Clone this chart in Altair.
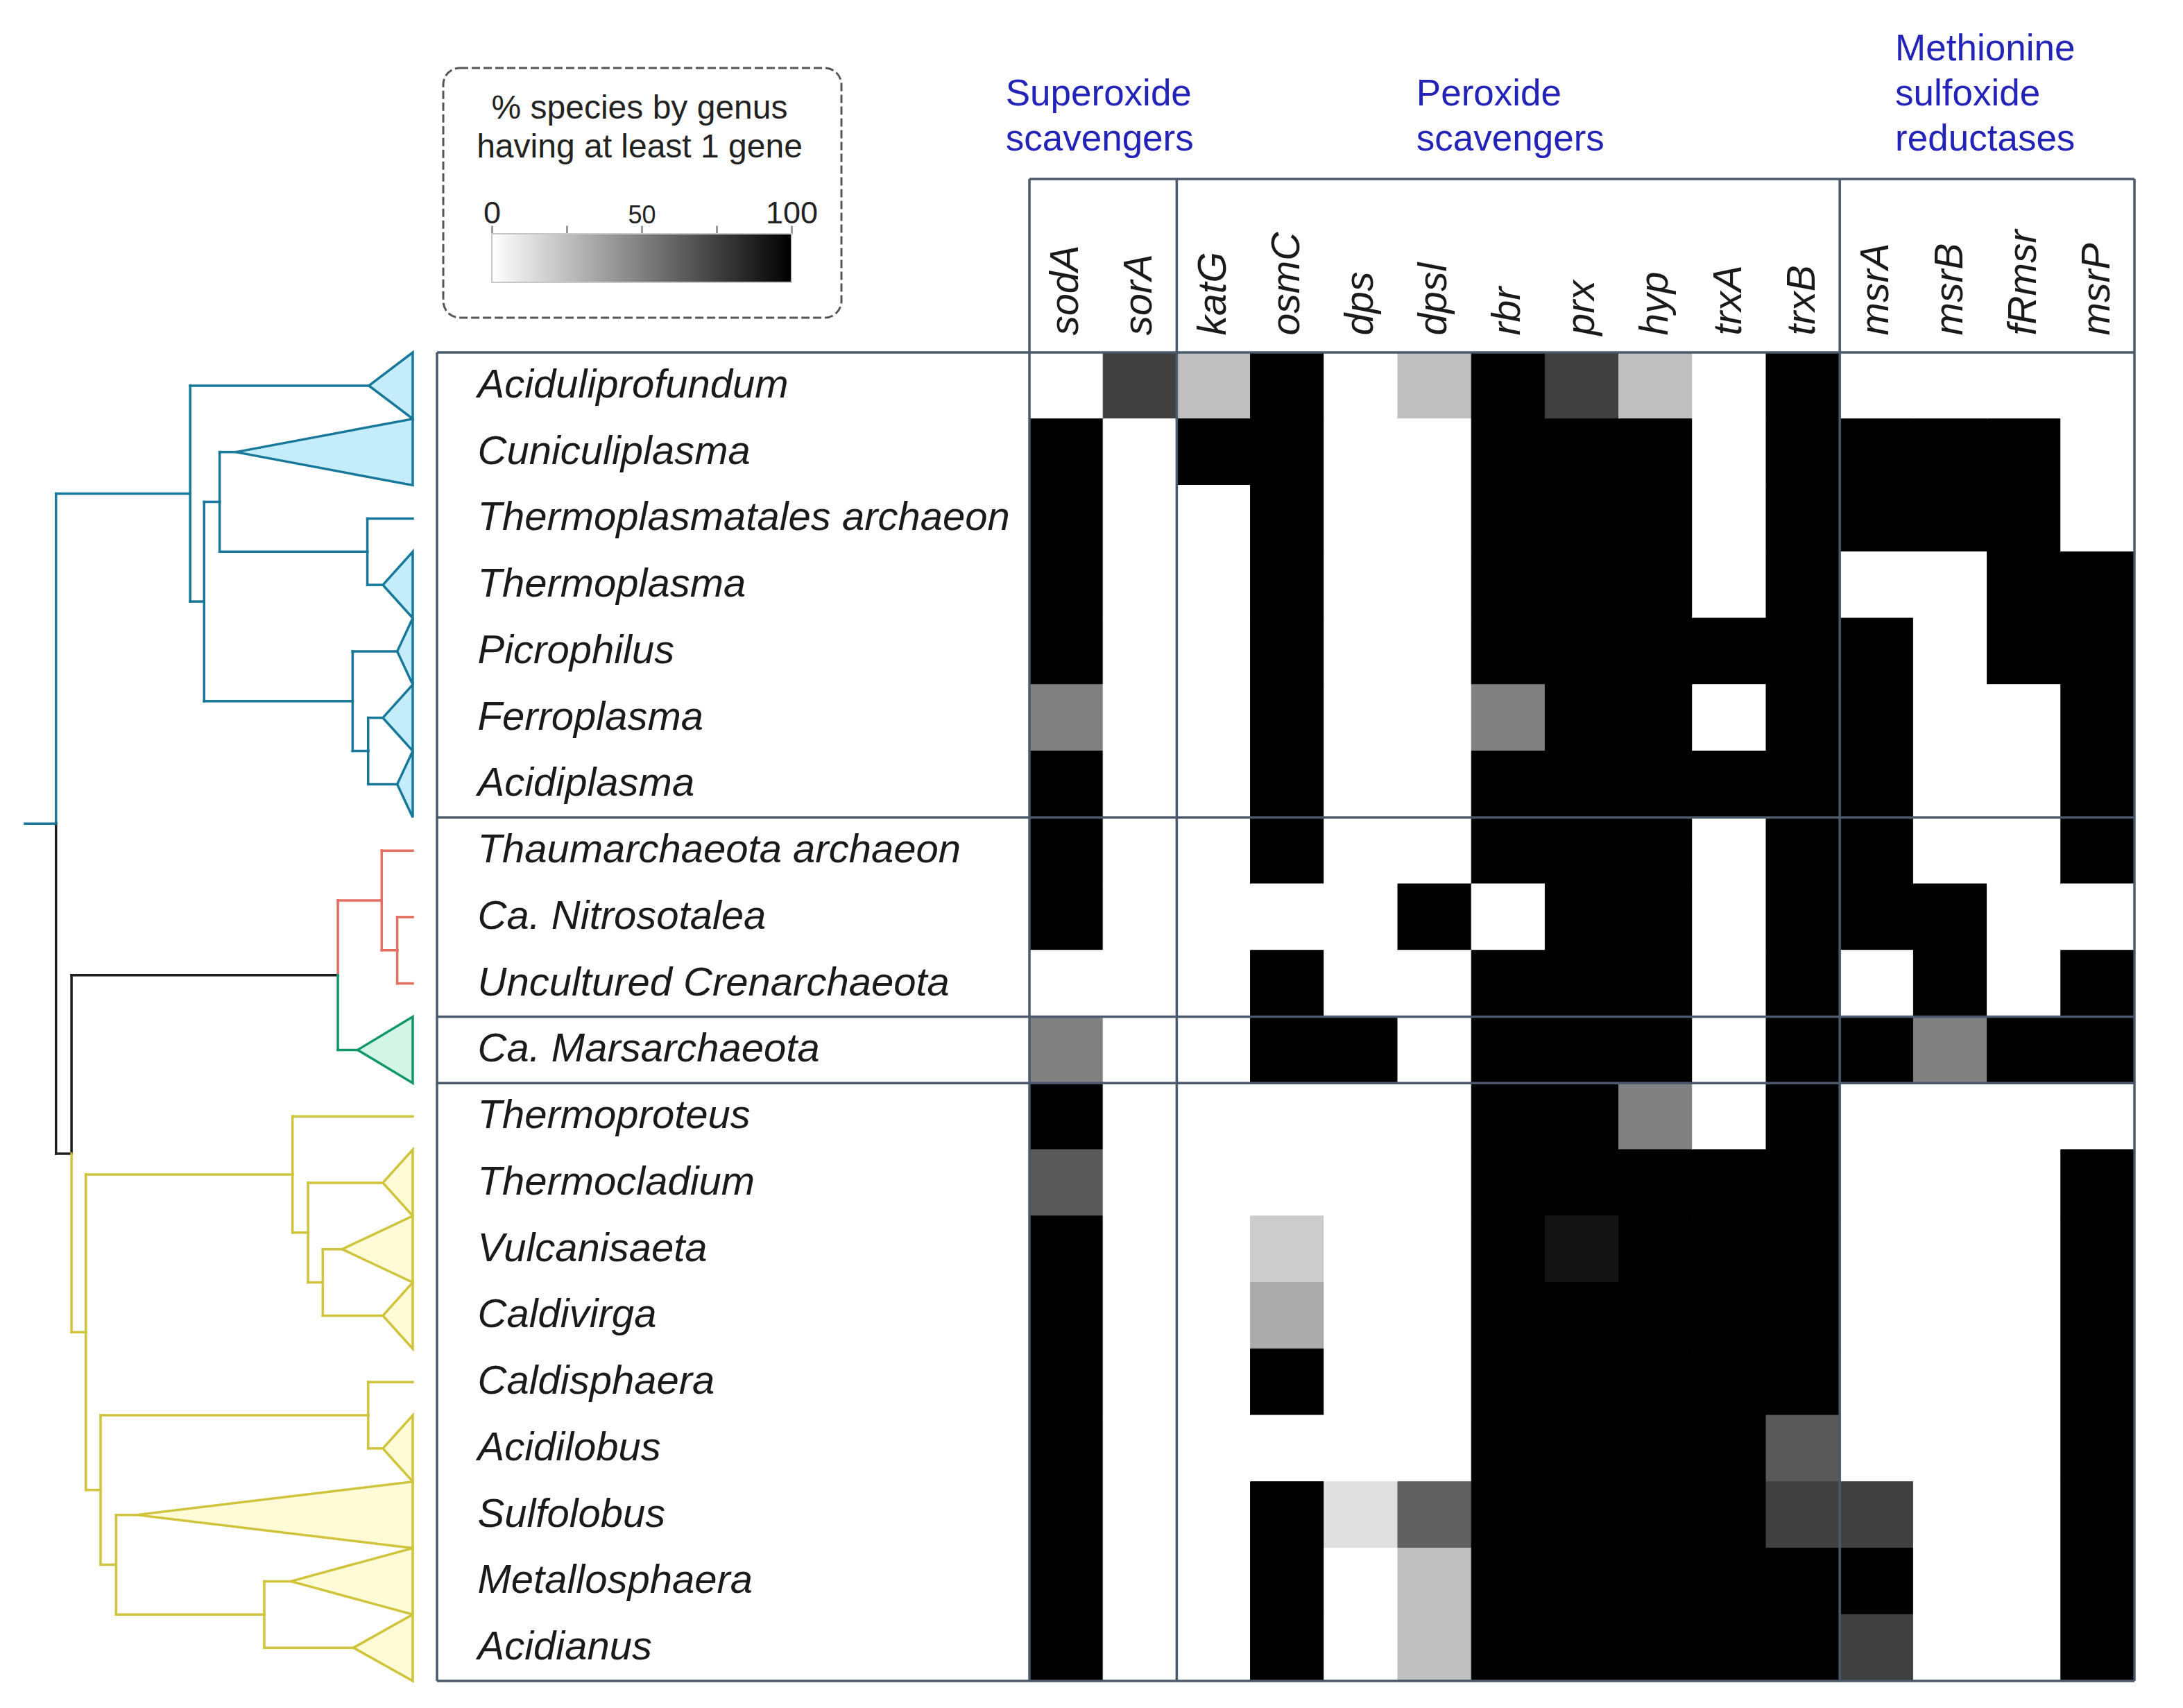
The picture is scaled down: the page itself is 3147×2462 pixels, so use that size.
import altair as alt
import pandas as pd

FONT = "Liberation Sans"

# ---------------- data ----------------
genera = [
    "Aciduliprofundum", "Cuniculiplasma", "Thermoplasmatales archaeon", "Thermoplasma",
    "Picrophilus", "Ferroplasma", "Acidiplasma",
    "Thaumarchaeota archaeon", "Ca. Nitrosotalea", "Uncultured Crenarchaeota",
    "Ca. Marsarchaeota",
    "Thermoproteus", "Thermocladium", "Vulcanisaeta", "Caldivirga", "Caldisphaera",
    "Acidilobus", "Sulfolobus", "Metallosphaera", "Acidianus",
]
row_group_sizes = [7, 3, 1, 9]
genus_clade = (["Thermoplasmata"] * 7 + ["Thaumarchaeota"] * 3 + ["Marsarchaeota"]
               + ["Crenarchaeota"] * 9)

genes = ["sodA", "sorA", "katG", "osmC", "dps", "dpsl", "rbr", "prx", "hyp",
         "trxA", "trxB", "msrA", "msrB", "fRmsr", "msrP"]
gene_groups = ["Superoxide\nscavengers", "Peroxide\nscavengers",
               "Methionine\nsulfoxide\nreductases"]
gene_group_sizes = [2, 9, 4]

# % species by genus having at least 1 gene (rows follow `genera`)
sodA  = [0, 100, 100, 100, 100, 50, 100, 100, 100, 0, 50, 100, 65, 100, 100, 100, 100, 100, 100, 100]
sorA  = [75, 0, 0, 0, 0, 0, 0, 0, 0, 0, 0, 0, 0, 0, 0, 0, 0, 0, 0, 0]
katG  = [25, 100, 0, 0, 0, 0, 0, 0, 0, 0, 0, 0, 0, 0, 0, 0, 0, 0, 0, 0]
osmC  = [100, 100, 100, 100, 100, 100, 100, 100, 0, 100, 100, 0, 0, 20, 33, 100, 0, 100, 100, 100]
dps   = [0, 0, 0, 0, 0, 0, 0, 0, 0, 0, 100, 0, 0, 0, 0, 0, 0, 12, 0, 0]
dpsl  = [25, 0, 0, 0, 0, 0, 0, 0, 100, 0, 0, 0, 0, 0, 0, 0, 0, 62, 25, 25]
rbr   = [100, 100, 100, 100, 100, 50, 100, 100, 0, 100, 100, 100, 100, 100, 100, 100, 100, 100, 100, 100]
prx   = [75, 100, 100, 100, 100, 100, 100, 100, 100, 100, 100, 100, 100, 92, 100, 100, 100, 100, 100, 100]
hyp   = [25, 100, 100, 100, 100, 100, 100, 100, 100, 100, 100, 50, 100, 100, 100, 100, 100, 100, 100, 100]
trxA  = [0, 0, 0, 0, 100, 0, 100, 0, 0, 0, 0, 0, 100, 100, 100, 100, 100, 100, 100, 100]
trxB  = [100, 100, 100, 100, 100, 100, 100, 100, 100, 100, 100, 100, 100, 100, 100, 100, 65, 75, 100, 100]
msrA  = [0, 100, 100, 0, 100, 100, 100, 100, 100, 0, 100, 0, 0, 0, 0, 0, 0, 75, 100, 75]
msrB  = [0, 100, 100, 0, 0, 0, 0, 0, 100, 100, 50, 0, 0, 0, 0, 0, 0, 0, 0, 0]
fRmsr = [0, 100, 100, 100, 100, 0, 0, 0, 0, 0, 100, 0, 0, 0, 0, 0, 0, 0, 0, 0]
msrP  = [0, 0, 0, 100, 100, 100, 100, 100, 0, 100, 100, 0, 100, 100, 100, 100, 100, 100, 100, 100]
gene_values = [sodA, sorA, katG, osmC, dps, dpsl, rbr, prx, hyp, trxA, trxB,
               msrA, msrB, fRmsr, msrP]

# tree: internal node -> (depth, [upper child, lower child]); depth 0 = root stub, 100 = tips
tree_nodes = {
    "root": (8.0, ["A", "X"]),
    "A": (42.6, ["Aciduliprofundum", "B"]),
    "B": (46.2, ["C", "E"]),
    "C": (50.2, ["Cuniculiplasma", "D"]),
    "D": (88.3, ["Thermoplasmatales archaeon", "Thermoplasma"]),
    "E": (84.5, ["Picrophilus", "F"]),
    "F": (88.5, ["Ferroplasma", "Acidiplasma"]),
    "X": (12.0, ["R", "Y"]),
    "R": (80.7, ["G", "Ca. Marsarchaeota"]),
    "G": (92.0, ["Thaumarchaeota archaeon", "H"]),
    "H": (96.0, ["Ca. Nitrosotalea", "Uncultured Crenarchaeota"]),
    "Y": (15.7, ["Z1", "W"]),
    "Z1": (69.0, ["Thermoproteus", "Z2"]),
    "Z2": (73.0, ["Thermocladium", "Z3"]),
    "Z3": (76.8, ["Vulcanisaeta", "Caldivirga"]),
    "W": (19.5, ["V", "U"]),
    "V": (88.5, ["Caldisphaera", "Acidilobus"]),
    "U": (23.5, ["Sulfolobus", "T"]),
    "T": (61.7, ["Metallosphaera", "Acidianus"]),
}
# depth of the apex of each collapsed clade (None = single branch to the tip)
clade_apex = [88.7, 54.4, None, 92.3, 96.0, 92.3, 96.0,
              None, None, None,
              85.8,
              None, 92.3, 81.8, 92.3, None, 92.3, 28.8, 68.6, 84.7]
TIP = 100.0
stub_clade = "Thermoplasmata"

clades = ["Thermoplasmata", "Thaumarchaeota", "Marsarchaeota", "Crenarchaeota", "mixed"]
clade_line = ["#18789a", "#e36f63", "#0f9669", "#cfc43c", "#1e1e1e"]
clade_fill = ["#c4ecfa", "#fde3e0", "#d3f5e5", "#fffbd6", "#ffffff"]

# ---------------- tables ----------------
heat_df = pd.DataFrame([
    {"genus": g, "gene": gene, "value": v}
    for gene, vals in zip(genes, gene_values)
    for g, v in zip(genera, vals)
])

row_of = {g: i for i, g in enumerate(genera)}
clade_of = dict(zip(genera, genus_clade))
apex_of = dict(zip(genera, clade_apex))


def leaves(n):
    if n in row_of:
        return [n]
    out = []
    for c in tree_nodes[n][1]:
        out += leaves(c)
    return out


def ny(n):
    if n in row_of:
        return row_of[n] + 0.5
    a, b = tree_nodes[n][1]
    return (ny(a) + ny(b)) / 2


def nclade(n):
    cs = {clade_of[l] for l in leaves(n)}
    return cs.pop() if len(cs) == 1 else "mixed"


def ndepth(n):
    if n in row_of:
        a = apex_of[n]
        return TIP if a is None else a
    return tree_nodes[n][0]


segs = []
for n, (d, (c1, c2)) in tree_nodes.items():
    y0 = ny(n)
    y1, y2 = ny(c1), ny(c2)
    segs.append({"x": d, "x2": d, "y": y1, "y2": y0, "clade": nclade(c1)})
    segs.append({"x": d, "x2": d, "y": y0, "y2": y2, "clade": nclade(c2)})
    for c in (c1, c2):
        segs.append({"x": d, "x2": ndepth(c), "y": ny(c), "y2": ny(c), "clade": nclade(c)})
segs.append({"x": 0.0, "x2": tree_nodes["root"][0], "y": ny("root"), "y2": ny("root"),
             "clade": stub_clade})
seg_df = pd.DataFrame(segs)

tris = []
for g in genera:
    a = apex_of[g]
    if a is None:
        continue
    i = row_of[g]
    tris.append({"leaf": g, "clade": clade_of[g], "x": a, "y": i + 0.5, "y2": i + 0.5})
    tris.append({"leaf": g, "clade": clade_of[g], "x": TIP, "y": i, "y2": i + 1})
tri_df = pd.DataFrame(tris)

# ---------------- layout ----------------
W, H = 1593, 1915
FRAME = "#4a596b"
LW = 3.5
BLUE = "#2323b8"
NAMES_LEFT = -854
HEADER_TOP = -250
LFS = 58

one = pd.DataFrame({"k": [0]})

x_axis = alt.Axis(orient="top", labelAngle=270, labelAlign="left", labelBaseline="middle",
                  labelPadding=25, ticks=False, tickSize=0, domain=False, grid=False,
                  labelFontSize=57, labelFont=FONT, labelFontStyle="italic",
                  labelColor="#1a1a1a", labelLimit=1000, title=None)
y_axis = alt.Axis(orient="left", labelAlign="left", labelBaseline="middle",
                  labelPadding=796, ticks=False, tickSize=0, domain=False, grid=False,
                  labelFontSize=LFS, labelFont=FONT, labelFontStyle="italic",
                  labelColor="#1a1a1a", labelLimit=1500, title=None)


def gx(bp=None, field="gene"):
    kw = {} if bp is None else {"bandPosition": bp}
    return alt.X(f"{field}:N", scale=alt.Scale(domain=genes, paddingInner=0, paddingOuter=0),
                 axis=x_axis, title=None, **kw)


def gy(bp=None):
    kw = {} if bp is None else {"bandPosition": bp}
    return alt.Y("genus:N", scale=alt.Scale(domain=genera, paddingInner=0, paddingOuter=0),
                 axis=y_axis, title=None, **kw)


gray = alt.Scale(domain=[0, 100], range=["#ffffff", "#000000"], interpolate="rgb")

heat = alt.Chart(heat_df).mark_rect(strokeWidth=1).encode(
    x=gx(), y=gy(),
    color=alt.Color("value:Q", scale=gray, legend=None),
    stroke=alt.Stroke("value:Q", scale=gray, legend=None),
)

# row group separators
row_starts = []
k = 0
for s in row_group_sizes:
    row_starts.append(genera[k])
    k += s
rule_rows = alt.Chart(pd.DataFrame({"genus": row_starts})).mark_rule(
    color=FRAME, strokeWidth=LW).encode(y=gy(0), x=alt.value(NAMES_LEFT), x2=alt.value(W))
rule_row_end = alt.Chart(pd.DataFrame({"genus": [genera[-1]]})).mark_rule(
    color=FRAME, strokeWidth=LW).encode(y=gy(1), x=alt.value(NAMES_LEFT), x2=alt.value(W))

# column group separators
col_starts = []
k = 0
group_pos = []
for s in gene_group_sizes:
    col_starts.append(genes[k])
    group_pos.append(k + s / 2)
    k += s
rule_cols = alt.Chart(pd.DataFrame({"gene": col_starts})).mark_rule(
    color=FRAME, strokeWidth=LW).encode(x=gx(0), y=alt.value(HEADER_TOP), y2=alt.value(H))
rule_col_end = alt.Chart(pd.DataFrame({"gene": [genes[-1]]})).mark_rule(
    color=FRAME, strokeWidth=LW).encode(x=gx(1), y=alt.value(HEADER_TOP), y2=alt.value(H))
rule_header = alt.Chart(one).mark_rule(color=FRAME, strokeWidth=LW).encode(
    x=alt.value(0), x2=alt.value(W), y=alt.value(HEADER_TOP))
rule_names = alt.Chart(one).mark_rule(color=FRAME, strokeWidth=LW).encode(
    x=alt.value(NAMES_LEFT), y=alt.value(0), y2=alt.value(H))

# group titles
TFS = 53
title_layers = []
for label, pos in zip(gene_groups, group_pos):
    gi = min(int(pos), len(genes) - 1)
    bp = pos - gi
    lines = label.split("\n")
    dx = -0.5 * max(len(s) for s in lines) * 0.5 * TFS
    if pos < 2:
        dx -= 8
    title_layers.append(
        alt.Chart(pd.DataFrame({"gene": [genes[gi]], "label": [label]})).mark_text(
            align="left", baseline="alphabetic", lineBreak="\n", lineHeight=65,
            fontSize=TFS, font=FONT, color=BLUE, dx=dx,
        ).encode(x=gx(bp), y=alt.value(-291 - 65 * (len(lines) - 1)), text="label:N")
    )

heat_group = alt.layer(heat, rule_rows, rule_row_end, rule_cols, rule_col_end,
                       rule_header, rule_names, *title_layers)

# tree
tx = alt.Scale(domain=[0, 100], range=[-1448, -889], nice=False, zero=False)
ty = alt.Scale(domain=[0, len(genera)], range=[0, H], nice=False, zero=False)
stroke_scale = alt.Scale(domain=clades, range=clade_line)
fill_scale = alt.Scale(domain=clades, range=clade_fill)

tree_tri = alt.Chart(tri_df).mark_area(orient="vertical", strokeWidth=3.5, strokeJoin="miter").encode(
    x=alt.X("x:Q", scale=tx, axis=None),
    y=alt.Y("y:Q", scale=ty, axis=None), y2="y2:Q",
    fill=alt.Fill("clade:N", scale=fill_scale, legend=None),
    stroke=alt.Stroke("clade:N", scale=stroke_scale, legend=None),
    detail="leaf:N",
)
tree_rules = alt.Chart(seg_df).mark_rule(strokeWidth=3.5, strokeCap="square").encode(
    x=alt.X("x:Q", scale=tx, axis=None), x2="x2:Q",
    y=alt.Y("y:Q", scale=ty, axis=None), y2="y2:Q",
    stroke=alt.Stroke("clade:N", scale=stroke_scale, legend=None),
)
tree_group = alt.layer(tree_tri, tree_rules)

# colour legend
grad = alt.LinearGradient(
    gradient="linear",
    stops=[alt.GradientStop(color="#ffffff", offset=0), alt.GradientStop(color="#000000", offset=1)],
    x1=0, x2=1, y1=0, y2=0,
)
leg_axis = alt.Axis(
    orient="top", offset=171, values=[0, 25, 50, 75, 100],
    labelExpr="datum.value % 50 === 0 ? datum.label : ''",
    labelFontSize={"condition": {"test": "datum.value === 50", "value": 36}, "value": 45},
    tickSize=12, tickWidth=3, tickColor="#9a9a9a", domainColor="#bdbdbd", domainWidth=3,
    labelBaseline="alphabetic", labelPadding=4, labelFont=FONT, labelColor="#222222",
    labelFlush=False, labelOverlap=False, grid=False, title=None,
)
leg_bar = alt.Chart(pd.DataFrame({"lo": [0], "hi": [100]})).mark_rect(
    fill=grad, stroke="#c8c8c8", strokeWidth=2).encode(
    x=alt.X("lo:Q", scale=alt.Scale(domain=[0, 100], range=[-775, -343], nice=False, zero=False),
            axis=leg_axis),
    x2="hi:Q", y=alt.value(-171), y2=alt.value(-101),
)
leg_box = alt.Chart(one).mark_rect(filled=False, color="#555555", strokeWidth=3,
                                   strokeDash=[12, 5], cornerRadius=24).encode(
    x=alt.value(-845), x2=alt.value(-271), y=alt.value(-410), y2=alt.value(-50))
leg_title = alt.Chart(pd.DataFrame({"t": ["% species by genus\nhaving at least 1 gene"]})).mark_text(
    align="center", baseline="alphabetic", lineBreak="\n", lineHeight=56,
    fontSize=48, font=FONT, color="#222222").encode(
    x=alt.value(-562), y=alt.value(-337), text="t:N")
legend_group = alt.layer(leg_box, leg_bar, leg_title)

chart = alt.layer(heat_group, tree_group, legend_group).resolve_scale(
    x="independent", y="independent", color="independent",
    stroke="independent", fill="independent",
).properties(
    width=W, height=H,
    padding={"left": 25, "top": 37, "right": 20, "bottom": 20},
).configure_view(strokeWidth=0)

chart.save("out.html", embed_options={"renderer": "svg", "actions": False})
